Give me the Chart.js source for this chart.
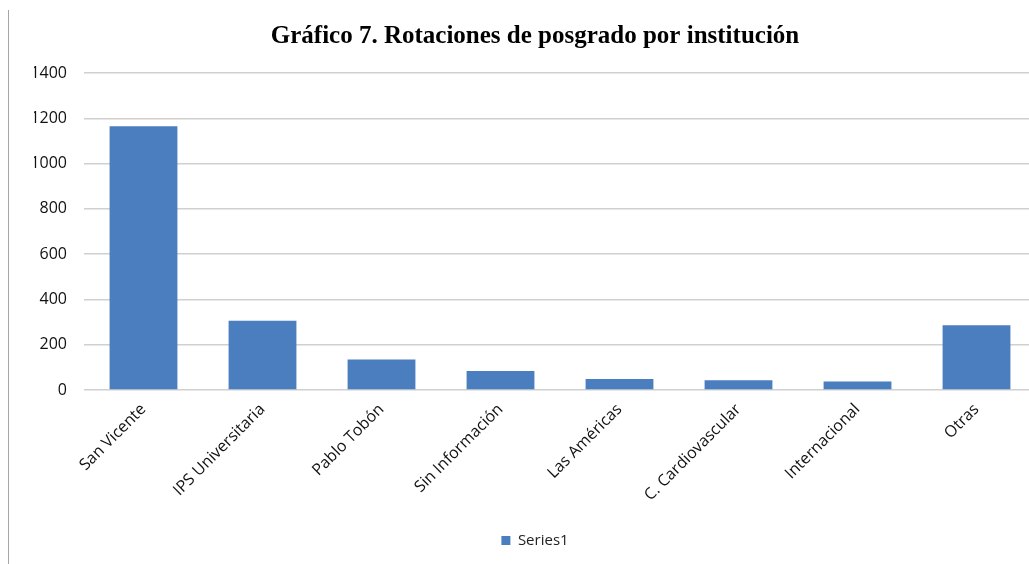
<!DOCTYPE html>
<html>
<head>
<meta charset="utf-8">
<script src="https://cdn.jsdelivr.net/npm/chart.js@4/dist/chart.umd.min.js"></script>
<style>
  html, body { margin: 0; padding: 0; background: #fff; overflow: hidden; }
  #frame { position: absolute; left: 8px; top: 10px; width: 1px; height: 560px; background: #a6a6a6; }
  #wrap { position: absolute; left: 0; top: 0; width: 1036px; height: 564px; }
</style>
</head>
<body>
<div id="wrap"><canvas id="chart"></canvas></div>
<div id="frame"></div>
<script>
const categories = ['San Vicente', 'IPS Universitaria', 'Pablo Tobón', 'Sin Información',
  'Las Américas', 'C. Cardiovascular', 'Internacional', 'Otras'];
const series1 = [1165, 306, 135, 84, 49, 43, 37, 286];
const yTicks = [0, 200, 400, 600, 800, 1000, 1200, 1400];

const sans = "'Open Sans', 'Noto Sans', sans-serif";

const ctx = document.getElementById('chart').getContext('2d');
new Chart(ctx, {
  type: 'bar',
  data: {
    labels: categories,
    datasets: [{
      label: 'Series1',
      data: series1,
      backgroundColor: '#4a7ebf',
      borderWidth: 0,
      categoryPercentage: 1,
      barPercentage: 0.57
    }]
  },
  options: {
    responsive: true,
    maintainAspectRatio: false,
    animation: false,
    layout: { padding: { left: 34, right: 0, top: 0, bottom: 6 } },
    plugins: {
      title: {
        display: true,
        text: 'Gráfico 7. Rotaciones de posgrado por institución',
        color: '#000',
        font: { family: "'Liberation Serif', 'Times New Roman', serif", size: 25, weight: 'bold' },
        padding: { top: 22, bottom: 21 }
      },
      legend: {
        position: 'bottom',
        labels: {
          color: '#222',
          font: { family: sans, size: 15 },
          boxWidth: 9,
          boxHeight: 9,
          padding: 10
        }
      },
      tooltip: { enabled: false }
    },
    scales: {
      x: {
        grid: { display: false },
        border: { display: false },
        ticks: {
          color: '#111',
          font: { family: sans, size: 16 },
          minRotation: 45,
          maxRotation: 45,
          padding: 2
        },
        afterFit: (scale) => { scale.height = 133; }
      },
      y: {
        min: 0,
        max: 1400,
        afterBuildTicks: (scale) => { scale.ticks = yTicks.map(v => ({ value: v })); },
        grid: { color: '#d0d0d0', lineWidth: 1.5, drawTicks: false },
        border: { display: false },
        ticks: {
          color: '#111',
          font: { family: sans, size: 16 },
          padding: 17,
          callback: (v) => String(v)
        },
        afterFit: (scale) => { scale.width = 50; }
      }
    }
  }
});
</script>
</body>
</html>
